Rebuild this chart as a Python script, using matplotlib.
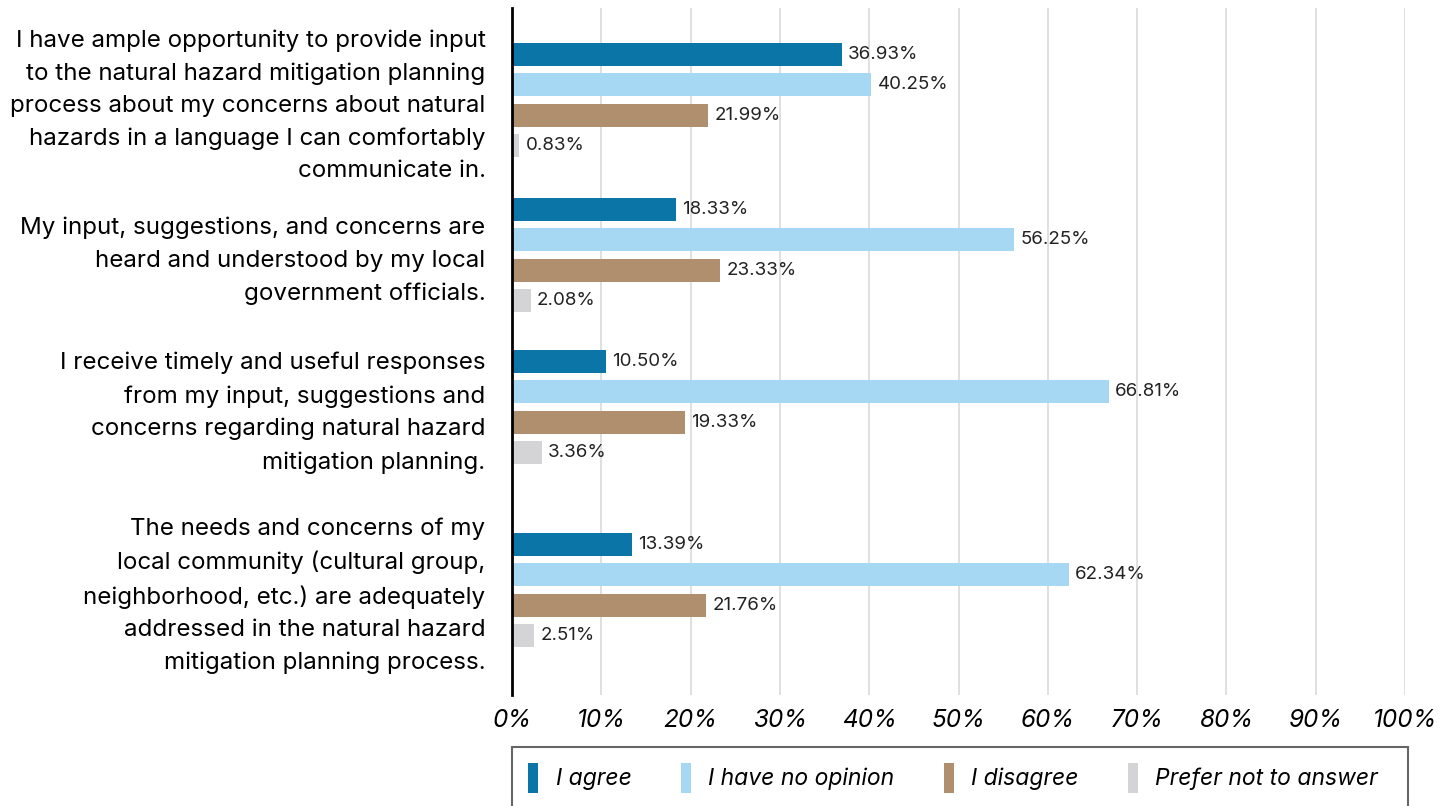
import numpy as np
import matplotlib.pyplot as plt
import matplotlib as mpl
from matplotlib.patches import Rectangle
from matplotlib.transforms import offset_copy

mpl.rc("font", family="Inter", size=16)
mpl.rc("figure", facecolor="w")

# ----- DATA -----

questions = [
    "I have ample opportunity to provide input\nto the natural hazard mitigation planning\nprocess about my concerns about natural\nhazards in a language I can comfortably\ncommunicate in.",
    "My input, suggestions, and concerns are\nheard and understood by my local\ngovernment officials.",
    "I receive timely and useful responses\nfrom my input, suggestions and\nconcerns regarding natural hazard\nmitigation planning.",
    "The needs and concerns of my\nlocal community (cultural group,\nneighborhood, etc.) are adequately\naddressed in the natural hazard\nmitigation planning process.",
]
responses = ["I agree", "I have no opinion", "I disagree", "Prefer not to answer"]
agree = [36.93, 18.33, 10.50, 13.39]
no_opinion = [40.25, 56.25, 66.81, 62.34]
disagree = [21.99, 23.33, 19.33, 21.76]
no_answer = [0.83, 2.08, 3.36, 2.51]
xticks = [0, 10, 20, 30, 40, 50, 60, 70, 80, 90, 100]

# ----- LAYOUT -----

colorlist = ["#0B75A7", "#A6D8F3", "#B08F6E", "#D4D4D6"]
group_centers = [92, 247, 399, 582]   # vertical position of each question (axis units)
bar_pitch = 30.5
bar_height = 23

series = [agree, no_opinion, disagree, no_answer]

W, H = 1441, 806
fig = plt.figure(figsize=(W / 100, H / 100), dpi=100)
ax = fig.add_axes([512 / W, 1 - 695 / H, (1405 - 512) / W, (695 - 8) / H])

centers = np.array(group_centers, dtype=float)
label_offset = offset_copy(ax.transData, fig=fig, x=6, y=0, units="dots")
for s_idx, vals in enumerate(series):
    ypos = centers + (s_idx - 1.5) * bar_pitch
    ax.barh(ypos, vals, height=bar_height, color=colorlist[s_idx],
            label=responses[s_idx], zorder=3)
    for y, v in zip(ypos, vals):
        ax.text(v, y, f"{v:.2f}%", transform=label_offset, ha="left",
                va="center", fontsize=13.5, color="#222222", zorder=4)

ax.set_xlim(0, 100)
ax.set_ylim(687, 0)
ax.set_xticks(xticks)
ax.set_xticklabels([f"{t}%" for t in xticks], fontstyle="italic", fontsize=17.5)
ax.set_yticks(centers - 2)
ax.set_yticklabels(questions, fontsize=17.4, linespacing=1.6, ha="right",
                   multialignment="right")
ax.tick_params(axis="x", length=0, pad=10)
ax.tick_params(axis="y", length=0, pad=19)
ax.grid(axis="x", color="#DADADA", linewidth=1.2, zorder=0)

for side in ["top", "right", "bottom"]:
    ax.spines[side].set_visible(False)
ax.spines["left"].set_linewidth(2)
ax.spines["left"].set_color("black")
ax.spines["left"].set_zorder(5)

# legend box runs past the bottom edge of the figure
fig.patches.append(Rectangle((512 / W, -10 / H), (1408 - 512) / W, (H - 747 + 10) / H,
                             transform=fig.transFigure, facecolor="none",
                             edgecolor="#666666", linewidth=1.5))
handles, labels = ax.get_legend_handles_labels()
fig.legend(handles, labels, loc="center left",
           bbox_to_anchor=(528 / W, 1 - 778 / H),
           ncol=4, frameon=False, borderaxespad=0, borderpad=0,
           handlelength=0.45, handleheight=1.65, handletextpad=0.75,
           columnspacing=2.15, prop={"style": "italic", "size": 16.5})

plt.savefig("out.png", dpi=100)
